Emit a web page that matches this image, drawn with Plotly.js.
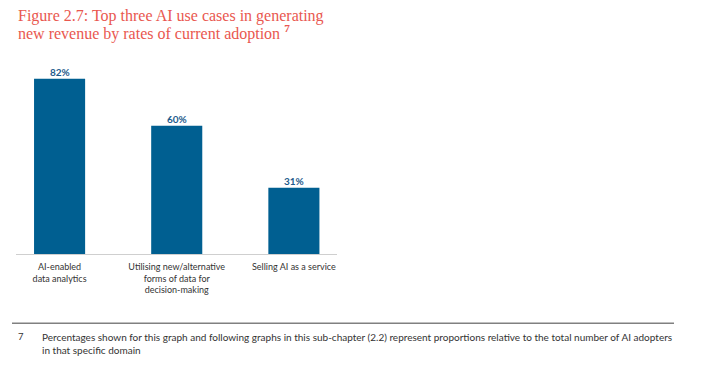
<!DOCTYPE html>
<html>
<head>
<meta charset="utf-8">
<script src="https://cdn.plot.ly/plotly-3.0.1.min.js"></script>
<style>html,body{margin:0;padding:0;background:#fff;}#chart{width:728px;height:377px;}</style>
</head>
<body>
<div id="chart"></div>
<script>
const categories = ["AI-enabled data analytics", "Utilising new/alternative forms of data for decision-making", "Selling AI as a service"];
const tickLabels = ["AI-enabled<br>data analytics", "Utilising new/alternative<br>forms of data for<br>decision-making", "Selling AI as a service"];
const adoptionPct = [82, 60, 31];

const titleLine1 = "Figure 2.7: Top three AI use cases in generating";
const titleLine2 = "new revenue by rates of current adoption <sup><b>7</b></sup>";
const footNum = "7";
const footText = "Percentages shown for this graph and following graphs in this sub-chapter (2.2) represent proportions relative to the total number of AI adopters<br>in that specific domain";

const W = 728, H = 377;
const mL = 16, mR = W - 337, mT = 40, mB = H - 254.5;
const PH = H - mT - mB, PW = W - mL - mR;
const py = px => (H - mB - px) / PH;   // pixel row -> paper y
const pxx = px => (px - mL) / PW;      // pixel col -> paper x

const trace = {
  type: "bar",
  x: categories,
  y: adoptionPct,
  width: 0.436,
  marker: {color: "#005f91"},
  hoverinfo: "skip"
};

const valueLabels = categories.map((c, i) => ({
  x: c, y: adoptionPct[i], xref: "x", yref: "y",
  xanchor: "center", yanchor: "bottom", showarrow: false, yshift: -1,
  text: "<b>" + adoptionPct[i] + "%</b>",
  font: {family: "Lato, sans-serif", size: 10, color: "#1d5b8c"}
}));

const layout = {
  width: W, height: H,
  margin: {l: mL, r: mR, t: mT, b: mB, pad: 0},
  paper_bgcolor: "#fff", plot_bgcolor: "#fff",
  showlegend: false,
  font: {family: "Lato, sans-serif", color: "#333"},
  xaxis: {
    type: "category",
    range: [-0.372, 2.368],
    tickvals: categories,
    ticktext: tickLabels,
    tickfont: {family: "Lato, sans-serif", size: 9, color: "#333"},
    ticks: "",
    ticklabelstandoff: 4,
    showline: true, linecolor: "#cfcfcf", linewidth: 1,
    showgrid: false, zeroline: false, fixedrange: true
  },
  yaxis: {
    range: [0, 100.2],
    visible: false, showgrid: false, zeroline: false, fixedrange: true
  },
  annotations: valueLabels.concat([
    {xref: "paper", yref: "paper", x: 0, xanchor: "left", yanchor: "bottom",
     y: py(27), text: titleLine1, showarrow: false,
     font: {family: "Liberation Serif, serif", size: 16, color: "#e9574f"}},
    {xref: "paper", yref: "paper", x: 0, xanchor: "left", yanchor: "bottom",
     y: py(45.5), text: titleLine2, showarrow: false,
     font: {family: "Liberation Serif, serif", size: 16, color: "#e9574f"}},
    {xref: "paper", yref: "paper", x: 0, xanchor: "left", yanchor: "top",
     y: py(330), text: footNum, showarrow: false,
     font: {family: "Lato, sans-serif", size: 9.5, color: "#333"}},
    {xref: "paper", yref: "paper", x: pxx(40), xanchor: "left", yanchor: "top", align: "left",
     y: py(329.5), text: footText, showarrow: false,
     font: {family: "Lato, sans-serif", size: 10, color: "#333"}}
  ]),
  shapes: [
    {type: "line", xref: "paper", yref: "paper",
     x0: pxx(12), x1: pxx(674),
     y0: py(324), y1: py(324),
     line: {color: "#808080", width: 1.5}}
  ]
};

Plotly.newPlot("chart", [trace], layout, {displayModeBar: false, staticPlot: true});
</script>
</body>
</html>
